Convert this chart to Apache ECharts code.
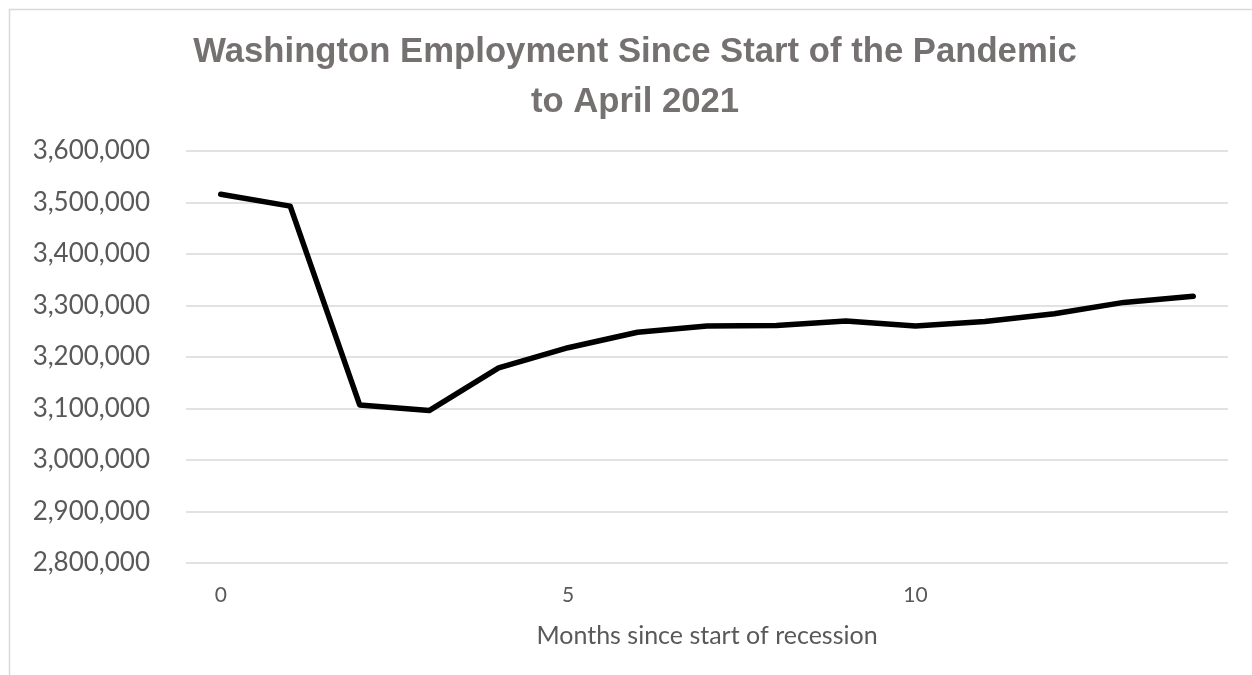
<!DOCTYPE html>
<html>
<head>
<meta charset="utf-8">
<title>Washington Employment Since Start of the Pandemic</title>
<script src="https://cdn.jsdelivr.net/npm/echarts@6/dist/echarts.min.js"></script>
<style>
  html, body { margin: 0; padding: 0; background: #ffffff; }
  #chart { width: 1252px; height: 675px; }
</style>
</head>
<body>
<div id="chart"></div>
<script>
// Months since the start of the recession (0 = February 2020)
const months = ['0', '1', '2', '3', '4', '5', '6', '7', '8', '9', '10', '11', '12', '13', '14'];

// Total Washington employment, by month
const employment = [
  3516000, 3493000, 3107000, 3096000, 3179000,
  3218000, 3248000, 3260000, 3261000, 3270000,
  3260000, 3269000, 3284000, 3306000, 3318000
];

// Value axis range and step
const yMin = 2800000;
const yMax = 3600000;
const yStep = 100000;

const chart = echarts.init(document.getElementById('chart'), null, { renderer: 'canvas' });

const labelColor = '#595959';
const gridColor = '#d9d9d9';

chart.setOption({
  backgroundColor: '#ffffff',
  animation: false,
  title: {
    text: 'Washington Employment Since Start of the Pandemic\nto April 2021',
    left: 630,
    top: 22,
    textAlign: 'center',
    textStyle: {
      fontFamily: '"Liberation Sans", Arial, sans-serif',
      fontSize: 34.7,
      fontWeight: 'bold',
      color: '#767171',
      lineHeight: 50
    }
  },
  graphic: [{
    type: 'rect',
    silent: true,
    shape: { x: 9.5, y: 9.5, width: 1300, height: 700 },
    style: { fill: 'none', stroke: '#d9d9d9', lineWidth: 1.5 }
  }],
  grid: {
    left: 186,
    right: 24,
    top: 151,
    bottom: 112,
    containLabel: false
  },
  xAxis: {
    type: 'category',
    data: months,
    boundaryGap: true,
    name: 'Months since start of recession',
    nameLocation: 'middle',
    nameGap: 60,
    nameTextStyle: {
      fontFamily: 'Lato, sans-serif',
      fontSize: 25,
      color: labelColor
    },
    axisLine: { show: false },
    axisTick: { show: false },
    axisLabel: {
      interval: 4,
      margin: 22,
      fontFamily: 'Lato, sans-serif',
      fontSize: 21,
      color: labelColor
    },
    splitLine: { show: false }
  },
  yAxis: {
    type: 'value',
    min: yMin,
    max: yMax,
    interval: yStep,
    axisLine: { show: false },
    axisTick: { show: false },
    axisLabel: {
      margin: 36,
      fontFamily: 'Lato, sans-serif',
      fontSize: 26,
      color: labelColor,
      formatter: v => v.toLocaleString('en-US')
    },
    splitLine: { show: true, lineStyle: { color: gridColor, width: 1.5 } }
  },
  series: [{
    type: 'line',
    data: employment,
    showSymbol: false,
    symbol: 'none',
    smooth: false,
    lineStyle: { color: '#000000', width: 5.5, cap: 'round', join: 'round' }
  }]
});
</script>
</body>
</html>
